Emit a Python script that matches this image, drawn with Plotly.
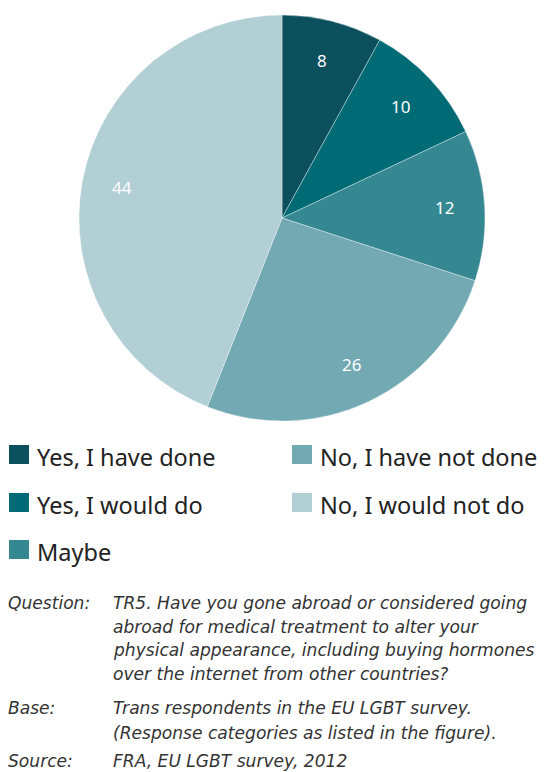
import math
import plotly.graph_objects as go

labels = ["Yes, I have done", "Yes, I would do", "Maybe", "No, I have not done", "No, I would not do"]
values = [8, 10, 12, 26, 44]
colors = ["#0b505c", "#006a75", "#358891", "#72a9b2", "#b2cfd5"]

note_heads = ["Question:", "Base:", "Source:"]
note_texts = [
    ["TR5. Have you gone abroad or considered going",
     "abroad for medical treatment to alter your",
     "physical appearance, including buying hormones",
     "over the internet from other countries?"],
    ["Trans respondents in the EU LGBT survey.",
     "(Response categories as listed in the figure)."],
    ["FRA, EU LGBT survey, 2012"],
]

OFF = 8  # page body margin
W, H = 542, 764
FONT = "Noto Sans"
NOTE_FONT = "DejaVu Sans"


def px(x):
    return (x - OFF) / W


def py(y):
    return 1 - (y - OFF) / H


CX, CY, R = 282, 218, 203

fig = go.Figure()
fig.add_trace(go.Pie(
    labels=labels, values=values, sort=False, direction="clockwise", rotation=0,
    marker=dict(colors=colors, line=dict(color="rgba(255,255,255,0.6)", width=0.6)),
    textinfo="none",
    domain=dict(x=[px(CX - R), px(CX + R)], y=[py(CY + R), py(CY - R)]),
    showlegend=False, hoverinfo="label+value",
))

shapes = []
annotations = []

# slice value labels placed at ~0.8 of the radius along each slice's mid-angle
total = sum(values)
cum = 0
for v in values:
    mid = (cum + v / 2) / total * 2 * math.pi
    cum += v
    lx = CX + 0.8 * R * math.sin(mid)
    ly = CY - 0.8 * R * math.cos(mid)
    annotations.append(dict(text=str(v), xref="paper", yref="paper",
                            x=px(lx), y=py(ly), xanchor="center", yanchor="middle",
                            showarrow=False, font=dict(size=17, color="white", family=FONT)))

# manual legend: two columns
col_x = [9, 292]
row_y = [456, 504, 551]
positions = [(0, 0), (0, 1), (0, 2), (1, 0), (1, 1)]
for lab, col, (c, r) in zip(labels, colors, positions):
    x0 = col_x[c]
    yc = row_y[r]
    shapes.append(dict(type="rect", xref="paper", yref="paper",
                       x0=px(x0), x1=px(x0 + 20),
                       y0=py(yc - 11), y1=py(yc + 8),
                       fillcolor=col, line=dict(width=0)))
    annotations.append(dict(text=lab, xref="paper", yref="paper",
                            x=px(x0 + 26), y=py(yc + 1), xanchor="left", yanchor="middle",
                            showarrow=False, font=dict(size=23.5, color="#222222", family=FONT)))

# notes: one annotation per line
head_y = [603, 708, 761]
line_gap = [23.7, 25, 0]
NOTE_SIZE = 17.1
for head, lines, y0, gap in zip(note_heads, note_texts, head_y, line_gap):
    annotations.append(dict(text="<i>" + head + "</i>", xref="paper", yref="paper",
                            x=px(7), y=py(y0), xanchor="left", yanchor="middle", borderpad=0,
                            showarrow=False, font=dict(size=NOTE_SIZE, color="#333333", family=NOTE_FONT)))
    for i, ln in enumerate(lines):
        annotations.append(dict(text="<i>" + ln + "</i>", xref="paper", yref="paper",
                                x=px(112), y=py(y0 + i * gap), xanchor="left", yanchor="middle",
                                borderpad=0, showarrow=False,
                                font=dict(size=NOTE_SIZE, color="#333333", family=NOTE_FONT)))

fig.update_layout(
    width=W, height=H, margin=dict(l=0, r=0, t=0, b=0),
    paper_bgcolor="white", plot_bgcolor="white",
    shapes=shapes, annotations=annotations,
)
fig.write_html("out.html")
